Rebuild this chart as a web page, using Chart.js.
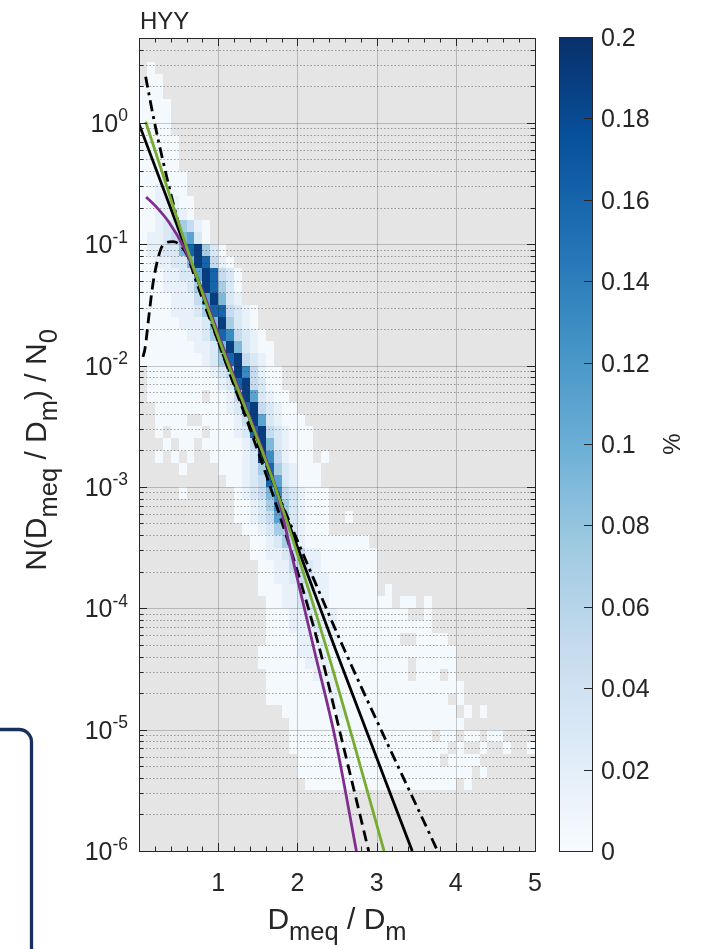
<!DOCTYPE html>
<html>
<head>
<meta charset="utf-8">
<title>HYY</title>
<script src="https://cdn.jsdelivr.net/npm/chart.js@4.4.1/dist/chart.umd.min.js"></script>
<style>
  html, body { margin: 0; padding: 0; background: #ffffff; }
  canvas { display: block; }
</style>
</head>
<body>
<canvas id="canvas" width="707" height="949"></canvas>
<script>
// ---- values ----
var xTickValues = [1, 2, 3, 4, 5];
var xTickLabels = ['1', '2', '3', '4', '5'];
var xMinorValues = [0.2, 0.4, 0.6, 0.8, 1.2, 1.4, 1.6, 1.8, 2.2, 2.4, 2.6, 2.8,
                    3.2, 3.4, 3.6, 3.8, 4.2, 4.4, 4.6, 4.8];
var yTickValues = [1e-6, 1e-5, 1e-4, 1e-3, 1e-2, 1e-1, 1];
var yTickExps = ['-6', '-5', '-4', '-3', '-2', '-1', '0'];
var yMinorMult = [2, 3, 4, 5, 6, 7, 8, 9];
var cbarTicks = [0, 0.02, 0.04, 0.06, 0.08, 0.1, 0.12, 0.14, 0.16, 0.18, 0.2];
var cbarLabels = ['0', '0.02', '0.04', '0.06', '0.08', '0.1', '0.12', '0.14', '0.16', '0.18', '0.2'];

// 2D histogram: x bins of 0.1, y bins of 0.1 decade starting at 10^0.7 (top row first)
// each row = [first x bin, levels]; '.' = empty bin, digit = index into levelPct
var xBinWidth = 0.1;
var yBinTopExp = 0.7;
var yBinStep = 0.1;
var levelPct = [0.003, 0.015, 0.03, 0.05, 0.07, 0.09, 0.11, 0.13, 0.16, 0.19];
var heatRows = [
  [0, ''],
  [0, ''],
  [1, '0'],
  [1, '00'],
  [0, '000'],
  [0, '0000'],
  [0, '0000'],
  [0, '0000'],
  [0, '00000'],
  [0, '00000'],
  [0, '00000'],
  [0, '000000'],
  [0, '001100'],
  [0, '0011100'],
  [0, '0011210'],
  [0, '001224310'],
  [0, '011235620'],
  [0, '01122589420'],
  [0, '001122598310'],
  [0, '0001122698320'],
  [0, '0001112498420'],
  [0, '0000111369521'],
  [0, '000011124883210'],
  [0, '000001112594210'],
  [0, '0000001124873210'],
  [0, '00000001125952100'],
  [0, '00000000124893210'],
  [1, '00000000123973100'],
  [1, '00000000012893200'],
  [1, '0000000.0013962100'],
  [2, '000000000128932100'],
  [2, '0000..0000139621000'],
  [2, '0.0000.0001289321000'],
  [3, '0.00.00000139521000'],
  [2, '0.0.0..0000129731000.0'],
  [5, '0....0001248421000'],
  [11, '001238621000'],
  [5, '0......012357321000'],
  [12, '001247421000'],
  [12, '001236421000..0'],
  [13, '00124421000'],
  [14, '001243100000000'],
  [14, '0011233110000000'],
  [15, '001133210000000'],
  [15, '001123211000000'],
  [15, '000112211000000.0'],
  [16, '0011221100000000.00.0'],
  [16, '000112111000000000..0'],
  [16, '000111211000000000000'],
  [16, '00001111100000000..0000'],
  [15, '0000011110000000000000000'],
  [15, '0000001110000000000.00000'],
  [16, '000000111000000000.000.0'],
  [16, '0000000110000000000000000'],
  [16, '00000000100000000000000.0'],
  [18, '0000000100000000000000.0.0'],
  [19, '0000000000000000000000'],
  [19, '000000000000000000.00.00.00'],
  [19, '00000000000000000000.0..0..0..0'],
  [20, '000000000000000000.0000'],
  [20, '0000000000000000000000.0'],
  [21, '0000000000000000000.0']
];

// fitted distributions
var greenX = [0.084, 0.35, 0.63, 1.04, 1.72, 2.336, 2.70, 3.094];
var greenY = [1.02, 0.30, 0.083, 0.0145, 0.001, 5.5e-5, 8.3e-6, 1.0e-6];
var purpleX = [0.09, 0.2, 0.38, 0.57, 0.8, 1.07, 1.3, 1.557, 1.75, 1.915, 2.21, 2.48, 2.745];
var purpleY = [0.245, 0.209, 0.151, 0.0933, 0.0417, 0.01365, 0.0055, 0.00204, 8.7e-4, 3.0e-4, 4.6e-5, 8.3e-6, 1.0e-6];
var blackX = [0.0, 1.72, 2.48, 3.45];
var blackY = [0.98, 0.001, 4.6e-5, 1.0e-6];
var dashDotX = [0.084, 0.19, 0.40, 0.6, 1.0, 1.4, 1.8, 2.2, 2.59, 3.77];
var dashDotY = [2.4, 1.05, 0.263, 0.087, 0.0158, 0.0033, 7.4e-4, 1.78e-4, 4.6e-5, 1.0e-6];
var dashedX = [0.05, 0.076, 0.126, 0.18, 0.27, 0.33, 0.43, 0.62, 1.0, 1.74, 2.25, 2.56, 2.9];
var dashedY = [0.0118, 0.0138, 0.026, 0.049, 0.089, 0.102, 0.105, 0.079, 0.0158, 6.9e-4, 5.5e-5, 8.3e-6, 1.0e-6];

// colour map (blues) for the % scale
var blueStops = [[0, '#f7fbff'], [0.025, '#deebf7'], [0.05, '#c6dbef'], [0.075, '#9ecae1'],
                 [0.1, '#6baed6'], [0.125, '#4292c6'], [0.15, '#2171b5'], [0.175, '#08519c'], [0.2, '#08306b']];

var FONT = "'Liberation Sans', Arial, Helvetica, sans-serif";
var TXT = '#262626';

function hexRgb(h) {
  return [parseInt(h.substr(1, 2), 16), parseInt(h.substr(3, 2), 16), parseInt(h.substr(5, 2), 16)];
}
function colorFor(v) {
  for (var i = 1; i < blueStops.length; i++) {
    if (v <= blueStops[i][0]) {
      var a = blueStops[i - 1], b = blueStops[i];
      var t = (v - a[0]) / (b[0] - a[0]);
      var ca = hexRgb(a[1]), cb = hexRgb(b[1]);
      return 'rgb(' + Math.round(ca[0] + (cb[0] - ca[0]) * t) + ',' +
        Math.round(ca[1] + (cb[1] - ca[1]) * t) + ',' + Math.round(ca[2] + (cb[2] - ca[2]) * t) + ')';
    }
  }
  return blueStops[blueStops.length - 1][1];
}
function pts(xs, ys) {
  return xs.map(function (x, i) { return { x: x, y: ys[i] }; });
}

// text with sub/superscripts: parts = [[text, kind]] kind 0 normal, 1 sub, 2 sup
function drawParts(c, parts, x, y, align, size, ratio) {
  var small = size * (ratio || 0.8);
  var w = 0;
  parts.forEach(function (p) {
    c.font = (p[1] ? small : size) + 'px ' + FONT;
    w += c.measureText(p[0]).width;
  });
  var cx = align === 'center' ? x - w / 2 : (align === 'right' ? x - w : x);
  c.textAlign = 'left';
  c.textBaseline = 'alphabetic';
  parts.forEach(function (p) {
    c.font = (p[1] ? small : size) + 'px ' + FONT;
    var dy = p[1] === 1 ? size * 0.38 : (p[1] === 2 ? -size * 0.42 : 0);
    c.fillText(p[0], cx, y + dy);
    cx += c.measureText(p[0]).width;
  });
}

var heatmapPlugin = {
  id: 'heatmap',
  beforeDatasetsDraw: function (chart) {
    var c = chart.ctx, xs = chart.scales.x, ys = chart.scales.y, a = chart.chartArea;
    c.save();
    c.fillStyle = '#e5e5e5';
    c.fillRect(a.left, a.top, a.right - a.left, a.bottom - a.top);
    c.beginPath();
    c.rect(a.left, a.top, a.right - a.left, a.bottom - a.top);
    c.clip();
    heatRows.forEach(function (row, r) {
      var yHi = Math.pow(10, yBinTopExp - r * yBinStep);
      var yLo = Math.pow(10, yBinTopExp - (r + 1) * yBinStep);
      var py0 = Math.round(ys.getPixelForValue(yHi));
      var py1 = Math.round(ys.getPixelForValue(yLo));
      for (var i = 0; i < row[1].length; i++) {
        var ch = row[1].charAt(i);
        if (ch === '.') continue;
        var col = row[0] + i;
        var px0 = Math.round(xs.getPixelForValue(col * xBinWidth));
        var px1 = Math.round(xs.getPixelForValue((col + 1) * xBinWidth));
        c.fillStyle = colorFor(levelPct[+ch]);
        c.fillRect(px0, py0, px1 - px0, py1 - py0);
      }
    });
    // grid
    c.lineWidth = 1;
    c.strokeStyle = 'rgba(0,0,0,0.2)';
    xTickValues.forEach(function (v) {
      var px = Math.round(xs.getPixelForValue(v)) + 0.5;
      c.beginPath(); c.moveTo(px, a.top); c.lineTo(px, a.bottom); c.stroke();
    });
    yTickValues.forEach(function (v) {
      var py = Math.round(ys.getPixelForValue(v)) + 0.5;
      c.beginPath(); c.moveTo(a.left, py); c.lineTo(a.right, py); c.stroke();
    });
    c.strokeStyle = 'rgba(40,40,40,0.42)';
    c.setLineDash([1.5, 2]);
    yTickValues.forEach(function (v) {
      yMinorMult.forEach(function (m) {
        var val = v * m;
        if (val > ys.max) return;
        var py = Math.round(ys.getPixelForValue(val)) + 0.5;
        c.beginPath(); c.moveTo(a.left, py); c.lineTo(a.right, py); c.stroke();
      });
    });
    c.restore();
  },
  afterDraw: function (chart) {
    var c = chart.ctx, xs = chart.scales.x, ys = chart.scales.y, a = chart.chartArea;
    c.save();
    c.strokeStyle = TXT;
    c.lineWidth = 1;
    // inward ticks on all four sides
    function yTick(val, len) {
      var py = Math.round(ys.getPixelForValue(val)) + 0.5;
      c.beginPath();
      c.moveTo(a.left, py); c.lineTo(a.left + len, py);
      c.moveTo(a.right, py); c.lineTo(a.right - len, py);
      c.stroke();
    }
    function xTick(val, len) {
      var px = Math.round(xs.getPixelForValue(val)) + 0.5;
      c.beginPath();
      c.moveTo(px, a.bottom); c.lineTo(px, a.bottom - len);
      c.moveTo(px, a.top); c.lineTo(px, a.top + len);
      c.stroke();
    }
    yTickValues.forEach(function (v) {
      yTick(v, 8);
      yMinorMult.forEach(function (m) { if (v * m <= ys.max) yTick(v * m, 4.5); });
    });
    xTickValues.forEach(function (v) { xTick(v, 8); });
    xMinorValues.forEach(function (v) { xTick(v, 4.5); });
    c.strokeRect(Math.round(a.left) + 0.5, Math.round(a.top) + 0.5,
      Math.round(a.right - a.left), Math.round(a.bottom - a.top));

    // tick labels
    c.fillStyle = TXT;
    xTickValues.forEach(function (v, i) {
      drawParts(c, [[xTickLabels[i], 0]], xs.getPixelForValue(v), a.bottom + 40, 'center', 25);
    });
    yTickValues.forEach(function (v, i) {
      drawParts(c, [['10', 0], [yTickExps[i], 2]], a.left - 11, ys.getPixelForValue(v) + 9, 'right', 25, 0.7);
    });

    // axis titles
    drawParts(c, [['D', 0], ['meq', 1], [' / D', 0], ['m', 1]], 337, 929, 'center', 30, 0.85);
    c.save();
    c.translate(46, 450);
    c.rotate(-Math.PI / 2);
    drawParts(c, [['N(D', 0], ['meq', 1], [' / D', 0], ['m', 1], [') / N', 0], ['0', 1]], 0, 0, 'center', 30, 0.85);
    c.restore();
    drawParts(c, [['HYY', 0]], a.left + 1, 29, 'left', 24);

    // colour bar
    var cbL = 559, cbR = 592;
    var cbTop = ys.getPixelForValue(ys.max) - 1, cbBot = a.bottom;
    var g = c.createLinearGradient(0, cbBot, 0, cbTop);
    blueStops.forEach(function (s) { g.addColorStop(s[0] / 0.2, s[1]); });
    c.fillStyle = g;
    c.fillRect(cbL, cbTop, cbR - cbL, cbBot - cbTop);
    c.strokeStyle = TXT;
    c.strokeRect(cbL + 0.5, Math.round(cbTop) + 0.5, cbR - cbL, Math.round(cbBot - cbTop));
    c.fillStyle = TXT;
    cbarTicks.forEach(function (v, i) {
      var py = cbBot - (cbBot - cbTop) * v / 0.2;
      if (i > 0 && i < cbarTicks.length - 1) {
        c.beginPath(); c.moveTo(cbR, Math.round(py) + 0.5); c.lineTo(cbR - 8, Math.round(py) + 0.5); c.stroke();
      }
      drawParts(c, [[cbarLabels[i], 0]], cbR + 9, py + 9, 'left', 25);
    });
    c.save();
    c.translate(680, 444);
    c.rotate(-Math.PI / 2);
    drawParts(c, [['%', 0]], 0, 0, 'center', 24);
    c.restore();

    // partial framed box at lower left edge
    c.strokeStyle = '#17305c';
    c.lineWidth = 3.3;
    c.beginPath();
    c.moveTo(0, 729.5);
    c.lineTo(19, 729.5);
    c.arcTo(31.5, 729.5, 31.5, 742, 12.5);
    c.lineTo(31.5, 952);
    c.stroke();
    c.restore();
  }
};

function lineSet(data, color, dash) {
  return {
    data: data, showLine: true, borderColor: color, backgroundColor: color,
    borderWidth: 2.8, borderDash: dash, pointRadius: 0, fill: false,
    cubicInterpolationMode: 'monotone', clip: 0
  };
}

var ctx = document.getElementById('canvas');
var chart = new Chart(ctx, {
  type: 'scatter',
  data: {
    datasets: [
      lineSet(pts(greenX, greenY), '#77ac30', []),
      lineSet(pts(purpleX, purpleY), '#7e2f8e', []),
      lineSet(pts(blackX, blackY), '#000000', []),
      lineSet(pts(dashDotX, dashDotY), '#000000', [11, 5, 3, 5]),
      lineSet(pts(dashedX, dashedY), '#000000', [11, 6])
    ]
  },
  options: {
    responsive: false,
    animation: false,
    layout: { padding: { left: 139, right: 172, top: 38, bottom: 98 } },
    plugins: { legend: { display: false }, tooltip: { enabled: false } },
    scales: {
      x: { type: 'linear', min: 0, max: 5, display: false },
      y: { type: 'logarithmic', min: 1e-6, max: 5, display: false }
    }
  },
  plugins: [heatmapPlugin]
});
</script>
</body>
</html>
